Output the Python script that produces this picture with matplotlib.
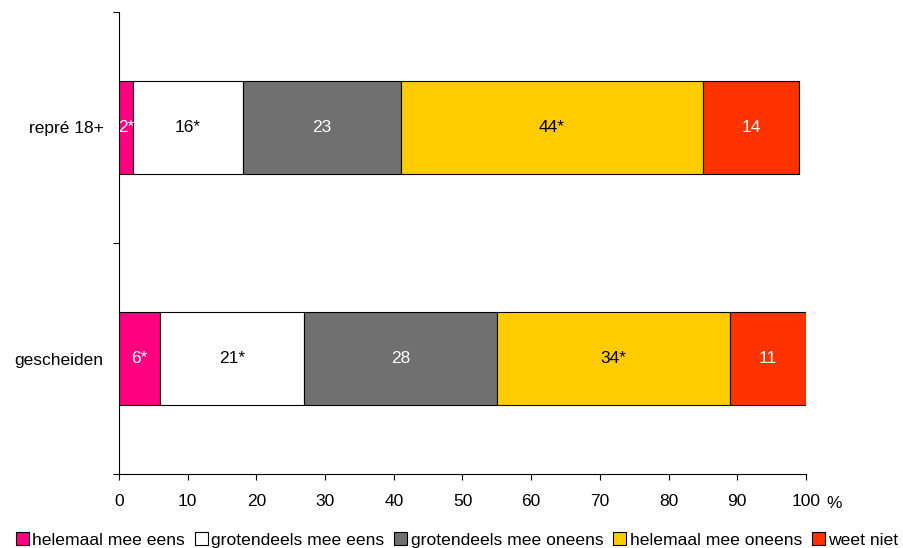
import matplotlib
matplotlib.use("Agg")
import matplotlib.pyplot as plt
import numpy as np

plt.rcParams['font.family'] = ['Liberation Sans', 'DejaVu Sans']

categories = ["gescheiden", "repré 18+"]
series_names = ["helemaal mee eens", "grotendeels mee eens", "grotendeels mee oneens",
                "helemaal mee oneens", "weet niet"]
values = {
    "helemaal mee eens": [6, 2],
    "grotendeels mee eens": [21, 16],
    "grotendeels mee oneens": [28, 23],
    "helemaal mee oneens": [34, 44],
    "weet niet": [11, 14],
}
labels = {
    "helemaal mee eens": ["6*", "2*"],
    "grotendeels mee eens": ["21*", "16*"],
    "grotendeels mee oneens": ["28", "23"],
    "helemaal mee oneens": ["34*", "44*"],
    "weet niet": ["11", "14"],
}
colors = ["#FF0080", "#FFFFFF", "#707070", "#FFCC00", "#FF3300"]
text_colors = ["white", "black", "white", "black", "white"]
xticks = [0, 10, 20, 30, 40, 50, 60, 70, 80, 90, 100]

FS = 12.5

fig = plt.figure(figsize=(9.04, 5.48), dpi=100)
ax = fig.add_axes([119/904, 1-474/548, (806-119)/904, (474-12)/548])

y = np.arange(len(categories))
left = np.zeros(len(categories))
handles = []
for name, col, tc in zip(series_names, colors, text_colors):
    vals = np.array(values[name], dtype=float)
    bars = ax.barh(y, vals, left=left, height=0.4, color=col, edgecolor='black',
                   linewidth=0.8, label=name)
    handles.append(bars)
    for yi, (l, v, lab) in enumerate(zip(left, vals, labels[name])):
        ax.text(l + v/2, yi, lab, ha='center', va='center', color=tc, fontsize=FS)
    left += vals

ax.set_xlim(0, 100)
ax.set_ylim(-0.5, 1.5)
ax.set_xticks(xticks)
ax.set_xticklabels([str(t) for t in xticks], fontsize=FS)
ax.tick_params(axis='x', direction='out', length=4, pad=10.5, width=0.8)
ax.set_yticks(y)
ax.set_yticklabels(categories, fontsize=FS)
ax.tick_params(axis='y', which='major', length=0, pad=11)
ax.set_yticks([-0.5, 0.5, 1.5], minor=True)
ax.tick_params(axis='y', which='minor', direction='out', length=4, width=0.8)
for s in ['top', 'right']:
    ax.spines[s].set_visible(False)
for s in ['left', 'bottom']:
    ax.spines[s].set_linewidth(0.8)

ax.annotate('%', xy=(1.0, 0), xycoords='axes fraction', xytext=(28, -29),
            textcoords='offset pixels', ha='center', va='center', fontsize=FS)

fig.legend(handles=handles, labels=series_names, loc='center', bbox_to_anchor=(457/904, 1-540/548),
           ncol=5, frameon=False, fontsize=12.6, handlelength=0.75, handleheight=0.75,
           handletextpad=0.2, columnspacing=0.55, borderpad=0, borderaxespad=0)

fig.savefig("out.png", dpi=100)
